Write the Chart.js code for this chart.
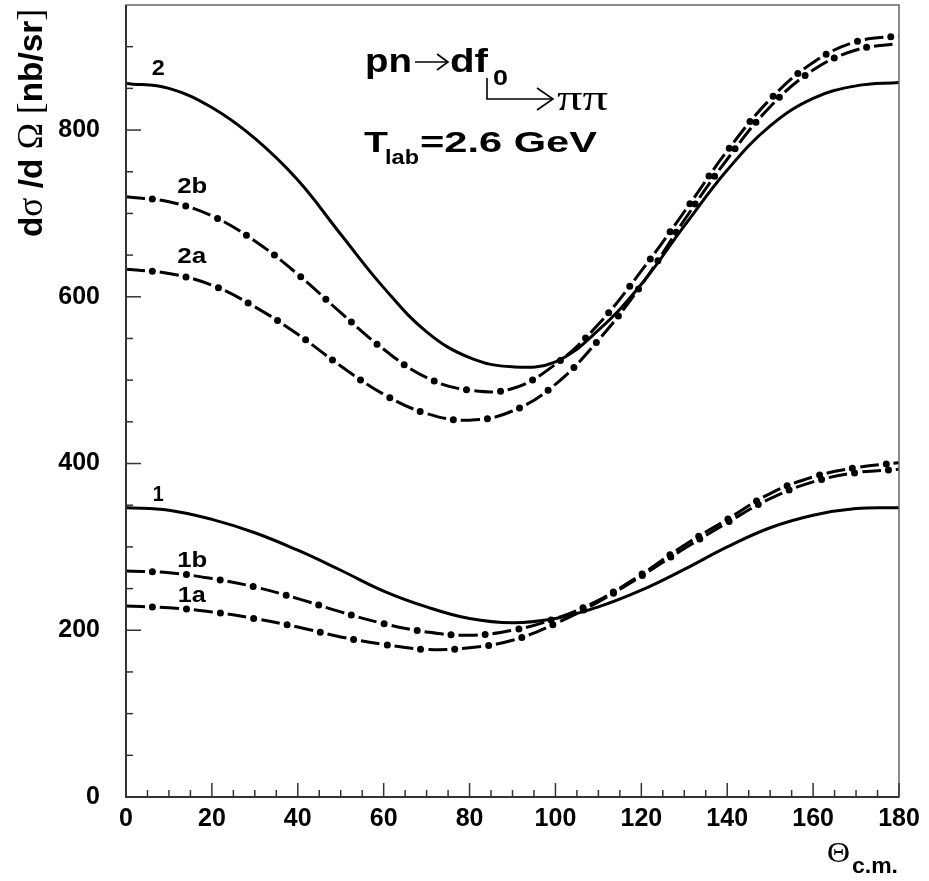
<!DOCTYPE html>
<html>
<head>
<meta charset="utf-8">
<title>pn -> d f0 cross section</title>
<script src="https://cdn.jsdelivr.net/npm/chart.js@4.4.0/dist/chart.umd.min.js"></script>
<style>
    html, body { margin: 0; padding: 0; background: #fff; }
    canvas { display: block; }
</style>
</head>
<body>
<canvas id="xsChart" width="929" height="881"></canvas>
<script>
// Theta c.m. (degrees)
const angles = [0, 10, 20, 30, 40, 50, 60, 70, 80, 90, 100, 110, 120, 130, 140, 150, 160, 170, 180];

// d sigma / d Omega [nb/sr]
const curve2  = [856, 850, 827, 790, 740, 675, 611, 558, 527, 516, 522, 560, 615, 685, 752, 805, 838, 853, 857];
const curve2b = [720, 714, 697, 667, 627, 581, 537, 503, 488, 490, 519, 567, 631, 702, 775, 837, 881, 906, 913];
const curve2a = [633, 628, 614, 588, 555, 517, 483, 460, 452, 463, 495, 548, 614, 692, 765, 828, 872, 896, 904];
const curve1  = [347, 344, 333, 317, 296, 272, 247, 228, 214, 209, 214, 228, 248, 273, 300, 323, 338, 346, 347];
const curve1b = [271, 269, 262, 252, 238, 222, 208, 198, 194, 200, 214, 236, 267, 302, 333, 364, 384, 395, 401];
const curve1a = [229, 227, 222, 214, 204, 192, 183, 177, 179, 188, 208, 234, 265, 298, 329, 358, 378, 389, 393];

// curve labels and where they sit (theta at centre, value at text baseline)
const curveLabels = ['2', '2b', '2a', '1', '1b', '1a'];
const labelTheta  = [7.5, 15.4, 15.3, 7.5, 15.4, 15.3];
const labelValue  = [866, 725, 641, 355, 276, 234];
const labelWidth  = [13, 30, 29, 11, 30, 28];

const SANS = '"Liberation Sans", Arial, sans-serif';
const SERIF = '"Liberation Serif", "Times New Roman", serif';

function toPoints(vals) {
    return angles.map((a, i) => ({ x: a, y: vals[i] }));
}

function solidCurve(vals) {
    return {
        data: toPoints(vals),
        borderColor: '#000',
        borderWidth: 3,
        pointRadius: 0,
        tension: 0.4,
        fill: false
    };
}

// dash-dot style: one pass for the dashes, one for the round dots in the gaps
function dashDotCurve(vals) {
    return [
        {
            data: toPoints(vals),
            borderColor: '#000',
            borderWidth: 3,
            borderDash: [19, 15],
            pointRadius: 0,
            tension: 0.4,
            fill: false
        },
        {
            data: toPoints(vals),
            borderColor: '#000',
            borderWidth: 7,
            borderDash: [0, 34],
            borderDashOffset: 7.5,
            borderCapStyle: 'round',
            pointRadius: 0,
            tension: 0.4,
            fill: false
        }
    ];
}

/**
 * Draw text stretched horizontally to a given width
 */
function fitText(ctx, text, font, x, y, width) {
    ctx.font = font;
    const w = ctx.measureText(text).width;
    const sx = width ? width / w : 1;
    ctx.save();
    ctx.translate(x, y);
    ctx.scale(sx, 1);
    ctx.fillText(text, 0, 0);
    ctx.restore();
}

function arrowHead(ctx, x, y, len, half) {
    ctx.beginPath();
    ctx.moveTo(x - len, y - half);
    ctx.lineTo(x, y);
    ctx.lineTo(x - len, y + half);
    ctx.stroke();
}

const decorations = {
    id: 'decorations',
    afterDraw(chart) {
        const { ctx, chartArea: a, scales: { x, y } } = chart;
        ctx.save();

        // frame
        ctx.strokeStyle = '#666';
        ctx.lineWidth = 1.5;
        ctx.strokeRect(a.left, a.top, a.right - a.left, a.bottom - a.top);
        ctx.strokeStyle = '#333';
        ctx.lineWidth = 2;
        ctx.beginPath();
        ctx.moveTo(a.left, a.top);
        ctx.lineTo(a.left, a.bottom);
        ctx.lineTo(a.right, a.bottom);
        ctx.stroke();

        // inward ticks
        ctx.lineWidth = 1.5;
        x.ticks.forEach(t => {
            const px = x.getPixelForValue(t.value);
            const len = t.value % 20 === 0 ? 14 : 7;
            ctx.beginPath();
            ctx.moveTo(px, a.bottom);
            ctx.lineTo(px, a.bottom - len);
            ctx.stroke();
        });
        y.ticks.forEach(t => {
            if (t.value >= 950) return;
            const py = y.getPixelForValue(t.value);
            const len = t.value % 200 === 0 ? 15 : 7;
            ctx.beginPath();
            ctx.moveTo(a.left, py);
            ctx.lineTo(a.left + len, py);
            ctx.stroke();
        });

        // curve labels
        ctx.fillStyle = '#000';
        ctx.textAlign = 'left';
        ctx.textBaseline = 'alphabetic';
        curveLabels.forEach((lab, i) => {
            const cx = x.getPixelForValue(labelTheta[i]);
            fitText(ctx, lab, 'bold 22px ' + SANS, cx - labelWidth[i] / 2, y.getPixelForValue(labelValue[i]), labelWidth[i]);
        });

        // reaction text
        fitText(ctx, 'pn', 'bold 34px ' + SANS, 365, 72, 47);
        ctx.strokeStyle = '#000';
        ctx.lineWidth = 1.6;
        ctx.beginPath();
        ctx.moveTo(415, 62);
        ctx.lineTo(448, 62);
        ctx.stroke();
        arrowHead(ctx, 448, 62, 11, 8);
        fitText(ctx, 'df', 'bold 34px ' + SANS, 450, 72, 38);
        fitText(ctx, '0', 'bold 22px ' + SANS, 493, 85, 15);

        // decay bracket f0 -> pi pi
        ctx.beginPath();
        ctx.moveTo(487, 78);
        ctx.lineTo(487, 99);
        ctx.lineTo(553, 99);
        ctx.stroke();
        arrowHead(ctx, 553, 99, 16, 11);
        fitText(ctx, '\u03C0\u03C0', '36px ' + SERIF, 557, 110, 51);

        fitText(ctx, 'T', 'bold 30px ' + SANS, 364, 152, 24);
        fitText(ctx, 'lab', 'bold 21px ' + SANS, 385, 164, 34);
        fitText(ctx, '=2.6 GeV', 'bold 30px ' + SANS, 420, 152, 177);

        // y axis title, reads bottom to top
        const runs = [
            { t: 'd', f: 'bold 32px ' + SANS },
            { t: '\u03C3', f: '34px ' + SERIF },
            { t: ' /d ', f: 'bold 32px ' + SANS },
            { t: '\u03A9', f: '34px ' + SERIF },
            { t: ' [', f: '34px ' + SERIF },
            { t: 'nb/sr', f: 'bold 32px ' + SANS },
            { t: ']', f: '34px ' + SERIF }
        ];
        let total = 0;
        runs.forEach(r => { ctx.font = r.f; r.w = ctx.measureText(r.t).width; total += r.w; });
        const s = 228 / total;
        ctx.save();
        ctx.translate(42, 237);
        ctx.rotate(-Math.PI / 2);
        ctx.scale(s, 1.05);
        let cx = 0;
        runs.forEach(r => { ctx.font = r.f; ctx.fillText(r.t, cx, 0); cx += r.w; });
        ctx.restore();

        // x axis title
        fitText(ctx, '\u0398', '29px ' + SERIF, 827, 862, 23);
        fitText(ctx, 'c.m.', 'bold 22px ' + SANS, 852, 873, 46);

        ctx.restore();
    }
};

const ctx = document.getElementById('xsChart');

new Chart(ctx, {
    type: 'line',
    data: {
        datasets: [
            solidCurve(curve2),
            ...dashDotCurve(curve2b),
            ...dashDotCurve(curve2a),
            solidCurve(curve1),
            ...dashDotCurve(curve1b),
            ...dashDotCurve(curve1a)
        ]
    },
    options: {
        responsive: false,
        animation: false,
        devicePixelRatio: 1,
        layout: {
            padding: { top: 5, right: 30, left: 0, bottom: 0 }
        },
        plugins: {
            legend: { display: false },
            tooltip: { enabled: false }
        },
        scales: {
            x: {
                type: 'linear',
                min: 0,
                max: 180,
                grid: { display: false, drawTicks: false },
                border: { display: false },
                ticks: {
                    stepSize: 5,
                    autoSkip: false,
                    maxRotation: 0,
                    padding: 7,
                    color: '#000',
                    font: { family: SANS, size: 25, weight: 'bold' },
                    callback: v => (v % 20 === 0 ? v : '')
                },
                afterFit: scale => {
                    scale.height = 84;
                    scale.paddingLeft = 0;
                    scale.paddingRight = 0;
                }
            },
            y: {
                type: 'linear',
                min: 0,
                max: 950,
                grid: { display: false, drawTicks: false },
                border: { display: false },
                ticks: {
                    stepSize: 50,
                    autoSkip: false,
                    padding: 26,
                    color: '#000',
                    font: { family: SANS, size: 25, weight: 'bold' },
                    callback: v => (v % 200 === 0 ? v : '')
                },
                afterFit: scale => {
                    scale.width = 126;
                    scale.paddingTop = 0;
                    scale.paddingBottom = 0;
                }
            }
        }
    },
    plugins: [decorations]
});
</script>
</body>
</html>
